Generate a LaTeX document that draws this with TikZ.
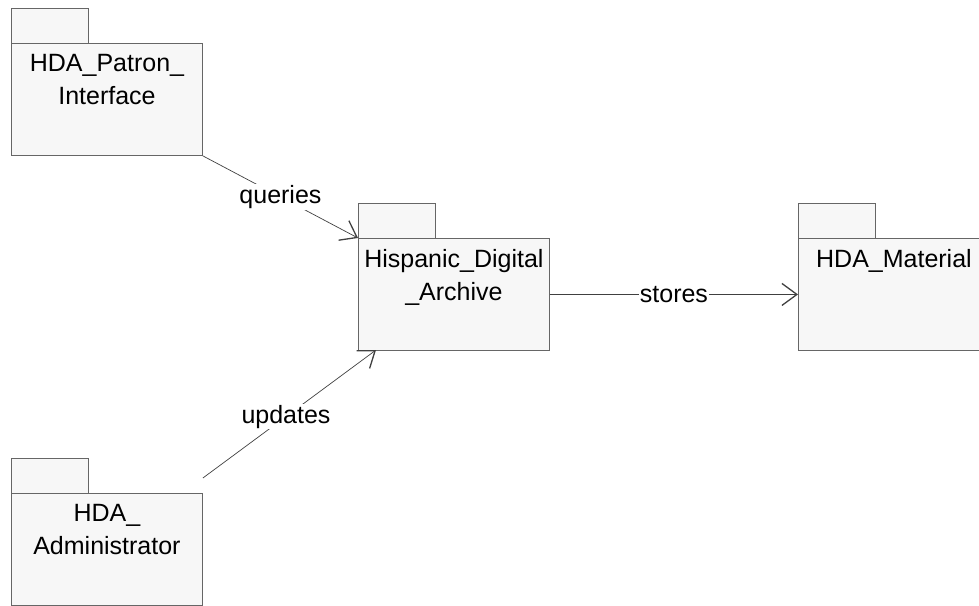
\documentclass[tikz,border=0pt]{standalone}
\usepackage{fontspec}
\setmainfont{Liberation Sans}
\usetikzlibrary{arrows.meta}
\begin{document}
\begin{tikzpicture}[x=1pt,y=-1pt,
  pkgline/.style={draw=black!60,line width=0.9pt,fill=black!3},
  pkgbody/.style={pkgline,rectangle,inner sep=0pt,minimum width=191pt,minimum height=112pt,anchor=north west},
  pkgtext/.style={anchor=north,inner sep=0pt,align=center,font=\fontsize{25}{33}\selectfont},
  conn/.style={draw=black!75,line width=0.7pt,-{Straight Barb[length=15pt,width=22pt,line width=1.3pt]}},
  connlbl/.style={fill=white,inner sep=1pt,font=\fontsize{25}{28}\selectfont}]
\useasboundingbox (0,0) rectangle (979,605);
% HDA_Patron_Interface
\draw[pkgline] (11,8) rectangle (88,43);
\node[pkgbody] (pat) at (11,43) {};
\node[pkgtext] (patt) at ([yshift=-11pt]pat.north) {HDA\_Patron\_\\Interface};
% Hispanic_Digital_Archive
\draw[pkgline] (358,203) rectangle (435,238);
\node[pkgbody] (hda) at (358,238) {};
\node[pkgtext] (hdat) at ([yshift=-11pt]hda.north) {Hispanic\_Digital\\\_Archive};
% HDA_Material
\draw[pkgline] (798,203) rectangle (875,238);
\node[pkgbody] (mat) at (798,238) {};
\node[pkgtext] (matt) at ([yshift=-11pt]mat.north) {HDA\_Material};
% HDA_Administrator
\draw[pkgline] (11,458) rectangle (88,493);
\node[pkgbody] (adm) at (11,493) {};
\node[pkgtext] (admt) at ([yshift=-11pt]adm.north) {HDA\_\\Administrator};
% connectors
\coordinate (admout) at ([yshift=15pt]adm.north east);
\coordinate (hdain) at (376,350);
\draw[conn] (pat.south east) -- node[connlbl,pos=0.5] (ql) {queries} (hda.north west);
\draw[conn] (admout) -- node[connlbl,pos=0.48] (ul) {updates} (hdain);
\draw[conn] (hda.east) -- node[connlbl,pos=0.5] (sl) {stores} (mat.west);
\end{tikzpicture}
\end{document}
